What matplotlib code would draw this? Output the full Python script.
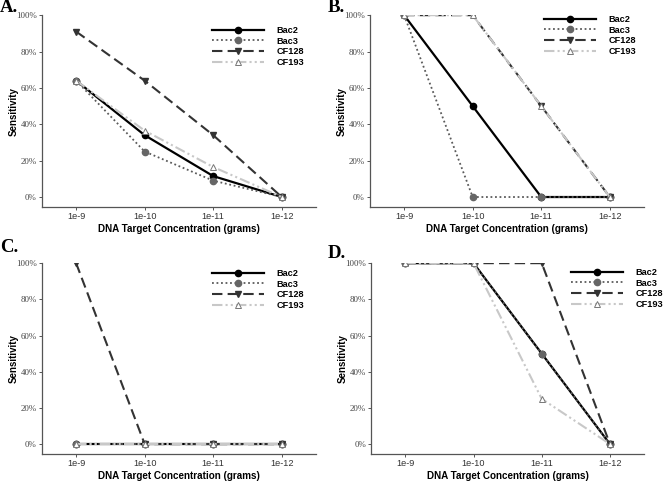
import matplotlib.pyplot as plt
from matplotlib.ticker import PercentFormatter

# data (sensitivity, fraction)
conc = ['1e-9', '1e-10', '1e-11', '1e-12']
series = ['Bac2', 'Bac3', 'CF128', 'CF193']

panel_a = {'Bac2': [0.64, 0.34, 0.115, 0.0],
           'Bac3': [0.64, 0.25, 0.09, 0.0],
           'CF128': [0.91, 0.64, 0.34, 0.0],
           'CF193': [0.64, 0.365, 0.165, 0.0]}
panel_b = {'Bac2': [1.0, 0.5, 0.0, 0.0],
           'Bac3': [1.0, 0.0, 0.0, 0.0],
           'CF128': [1.0, 1.0, 0.5, 0.0],
           'CF193': [1.0, 1.0, 0.5, 0.0]}
panel_c = {'Bac2': [0.0, 0.0, 0.0, 0.0],
           'Bac3': [0.0, 0.0, 0.0, 0.0],
           'CF128': [1.0, 0.0, 0.0, 0.0],
           'CF193': [0.0, 0.0, 0.0, 0.0]}
panel_d = {'Bac2': [1.0, 1.0, 0.5, 0.0],
           'Bac3': [1.0, 1.0, 0.5, 0.0],
           'CF128': [1.0, 1.0, 1.0, 0.0],
           'CF193': [1.0, 1.0, 0.25, 0.0]}

styles = {
    'Bac2': dict(color='black', ls='-', lw=1.6, marker='o', ms=4.5, mfc='black', mec='black'),
    'Bac3': dict(color='#5a5a5a', ls=(0, (1, 1.5)), lw=1.3, marker='o', ms=4.5, mfc='#666666', mec='#666666'),
    'CF128': dict(color='#333333', ls=(0, (5, 2.5)), lw=1.5, marker='v', ms=4.5, mfc='#333333', mec='#333333'),
    'CF193': dict(color='#c8c8c8', ls=(0, (5, 1.5, 1, 1.5, 1, 1.5)), lw=1.5, marker='^', ms=4.5,
                  mfc='white', mec='#777777', mew=0.7),
}

W, H = 664, 482
fig = plt.figure(figsize=(W / 100, H / 100), dpi=100)

# label, data, axes rect, panel-letter y (px from top), legend top-right corner (px)
panels = [('A.', panel_a, [0.063, 0.5705, 0.413, 0.398], 8, (304, 26)),
          ('B.', panel_b, [0.557, 0.5705, 0.413, 0.398], 7, (636, 15)),
          ('C.', panel_c, [0.063, 0.058, 0.413, 0.396], 248, (304, 269)),
          ('D.', panel_d, [0.559, 0.058, 0.411, 0.396], 253, (663, 268))]

sans = 'Liberation Sans'
x = list(range(len(conc)))
for label, data, pos, ly, (lx, lt) in panels:
    ax = fig.add_axes(pos)
    for s in series:
        ax.plot(x, data[s], label=s, **styles[s])
    ax.set_xlim(-0.5, 3.5)
    ax.set_ylim(-0.055, 1.0)
    ax.set_xticks(x)
    ax.set_xticklabels(conc, fontsize=6.6, family=sans, color='#333333')
    ax.set_yticks([0, 0.2, 0.4, 0.6, 0.8, 1.0])
    ax.yaxis.set_major_formatter(PercentFormatter(1.0, decimals=0))
    for t in ax.get_yticklabels():
        t.set_family('Liberation Serif')
        t.set_fontsize(6.4)
        t.set_color('#444444')
    for sp in ['top', 'right']:
        ax.spines[sp].set_visible(False)
    for sp in ['left', 'bottom']:
        ax.spines[sp].set_color('#555555')
        ax.spines[sp].set_linewidth(0.9)
    ax.tick_params(length=2.5, width=0.7, color='#555555', pad=1.2)
    ax.set_xlabel('DNA Target Concentration (grams)', fontsize=7.1, fontweight='bold', family=sans)
    ax.set_ylabel('Sensitivity', fontsize=7.0, fontweight='bold', family=sans)
    # place axis titles by pixel offset from the spines
    w_px, h_px = pos[2] * W, pos[3] * H
    ax.xaxis.set_label_coords(0.5, -21.5 / h_px)
    ax.yaxis.set_label_coords(-28.0 / w_px, 0.5)
    ax.xaxis.label.set_va('center')
    ax.yaxis.label.set_va('center')
    leg = ax.legend(loc='upper right', bbox_to_anchor=(lx / W, 1 - lt / H), bbox_transform=fig.transFigure,
                    frameon=False, prop={'family': sans, 'size': 6.6, 'weight': 'bold'},
                    borderpad=0, borderaxespad=0,
                    handlelength=5.7, labelspacing=0.18, handletextpad=1.3)
    fig.text(0.0 if pos[0] < 0.3 else 0.493, 1 - ly / H, label, fontsize=13.5, fontweight='bold',
             family='Liberation Serif', va='center', ha='left')

fig.savefig('out.png', dpi=100)
